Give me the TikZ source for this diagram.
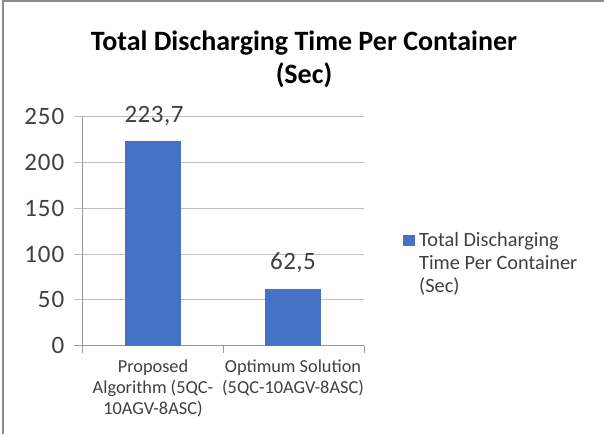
\documentclass[tikz,border=0pt]{standalone}
\usepackage{fontspec}
\setmainfont{Carlito}
\definecolor{barblue}{HTML}{4472C4}
\definecolor{gridgray}{HTML}{BFBFBF}
\definecolor{framegray}{HTML}{8C8C8C}
\definecolor{labeltext}{HTML}{404040}
\tikzset{
  gridline/.style={draw=gridgray, line width=1pt},
  axisline/.style={draw=gridgray!80!black, line width=1pt},
  bar/.style={fill=barblue, draw=none},
  ticklabel/.style={anchor=east, inner sep=0pt, text=labeltext, font=\fontsize{25}{28}\selectfont\addfontfeature{LetterSpace=4}},
  valuelabel/.style={inner sep=0pt, text=labeltext, font=\fontsize{25}{28}\selectfont\addfontfeature{LetterSpace=2}},
  catlabel/.style={inner sep=0pt, align=center, text=labeltext, font=\fontsize{18.3}{21}\selectfont},
  legendtext/.style={anchor=north west, inner sep=0pt, align=left, text=labeltext, font=\fontsize{20.3}{23.3}\selectfont},
  charttitle/.style={inner sep=0pt, align=center, text=black, font=\bfseries\fontsize{28}{33}\selectfont}
}
\begin{document}
\begin{tikzpicture}[x=1pt, y=-1pt]
  \useasboundingbox (0,0) rectangle (604,434);
  \fill[white] (0,0) rectangle (604,434);
  % chart frame (top and left edges)
  \draw[framegray, line width=1.5pt] (3,434) -- (3,1) -- (604,1);

  % title
  \node[charttitle] (title) at (304,59) {Total Discharging Time Per Container\\(Sec)};

  % plot geometry: value 0 at y=345.7, 0.915 px per unit
  \foreach \v in {50,100,150,200,250} {
    \draw[gridline] (74,{345.7-0.915*\v}) -- (364,{345.7-0.915*\v});
  }
  \foreach \v in {0,50,...,250} {
    \node[ticklabel] (tick\v) at (64.5,{345.7-0.915*\v}) {\v};
  }
  % axes
  \draw[axisline] (82,117) -- (82,345.7);
  \draw[axisline] (74,345.7) -- (364,345.7);
  \foreach \x in {82,223,364} {
    \draw[axisline] (\x,345.7) -- (\x,353);
  }

  % bars
  \fill[bar] (125,345.7) rectangle (181,{345.7-0.915*223.7});
  \fill[bar] (265,345.7) rectangle (321,{345.7-0.915*62.5});
  \node[valuelabel] (v1) at (154,116) {223,7};
  \node[valuelabel] (v2) at (293,263) {62,5};

  % category labels
  \node[catlabel, anchor=north] (c1) at (153,360) {Proposed\\Algorithm (5QC-\\10AGV-8ASC)};
  \node[catlabel, anchor=north] (c2) at (293,360) {Optimum Solution\\(5QC-10AGV-8ASC)};

  % legend
  \fill[barblue] (403,235) rectangle (415,246) coordinate (legkey);
  \node[legendtext] (leg) at (419,232) {Total Discharging\\Time Per Container\\(Sec)};
\end{tikzpicture}
\end{document}
